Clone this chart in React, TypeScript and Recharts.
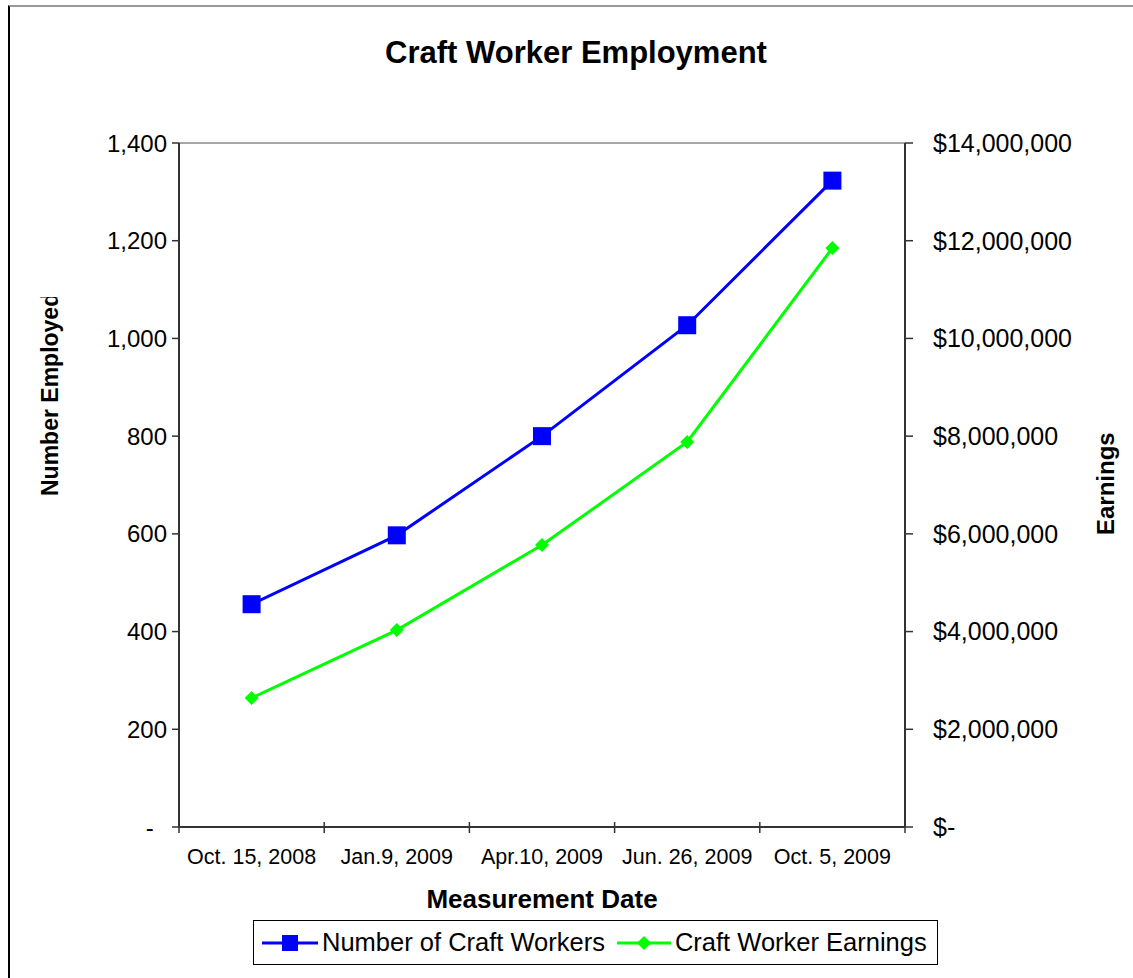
import { LineChart, Line, XAxis, YAxis, ReferenceLine } from "recharts";

// values
const dates = ["Oct. 15, 2008", "Jan.9, 2009", "Apr.10, 2009", "Jun. 26, 2009", "Oct. 5, 2009"];
const workers = [456, 597, 800, 1027, 1323];
const earnings = [2640000, 4030000, 5770000, 7880000, 11850000];
const workerTicks = [0, 200, 400, 600, 800, 1000, 1200, 1400];
const earningTicks = [0, 2000000, 4000000, 6000000, 8000000, 10000000, 12000000, 14000000];

const data = dates.map((d, i) => ({ date: d, workers: workers[i], earnings: earnings[i] }));

const FONT = "'Liberation Sans', Arial, sans-serif";
const W = 1133;
const H = 978;
const PLOT_LEFT = 179;
const PLOT_RIGHT = 905;
const PLOT_TOP = 143;
const PLOT_BOTTOM = 827;
const HALF_BAND = (PLOT_RIGHT - PLOT_LEFT) / dates.length / 2;
const X_TICK_SIZE = 6;
const X_TICK_MARGIN = 16;

const fmtWorkers = (v: number) => (v === 0 ? "-\u00a0\u00a0" : v.toLocaleString("en-US"));
const fmtEarnings = (v: number) => (v === 0 ? "$-" : "$" + v.toLocaleString("en-US"));

const DateTick = (props: any) => {
  const { x, y, payload, index } = props;
  const axisY = y - X_TICK_SIZE - X_TICK_MARGIN;
  return (
    <g>
      <line x1={x - HALF_BAND} x2={x - HALF_BAND} y1={axisY - 5} y2={axisY + 6} stroke="#333" strokeWidth={1.5} />
      {index === dates.length - 1 && (
        <line x1={x + HALF_BAND} x2={x + HALF_BAND} y1={axisY - 5} y2={axisY + 6} stroke="#333" strokeWidth={1.5} />
      )}
      <text x={x} y={y} dy="0.71em" textAnchor="middle" fontSize={21.5} fontFamily={FONT} fill="#000">
        {payload.value}
      </text>
    </g>
  );
};

const SquareDot = (props: any) => {
  const { cx, cy, index } = props;
  return <rect key={"sq" + index} x={cx - 9} y={cy - 9} width={18} height={18} fill="#0000FF" />;
};

const DiamondDot = (props: any) => {
  const { cx, cy, index } = props;
  const r = 7;
  return (
    <polygon
      key={"dm" + index}
      points={`${cx},${cy - r} ${cx + r},${cy} ${cx},${cy + r} ${cx - r},${cy}`}
      fill="#00FF00"
    />
  );
};

const LeftTitle = () => (
  <g clipPath="url(#leftTitleClip)">
    <defs>
      <clipPath id="leftTitleClip">
        <rect x={20} y={297} width={60} height={220} />
      </clipPath>
    </defs>
    <text
      x={58}
      y={496}
      transform="rotate(-90, 58, 496)"
      fontSize={23}
      fontWeight="bold"
      fontFamily={FONT}
      fill="#000"
    >
      Number Employed
    </text>
  </g>
);

const RightTitle = () => (
  <text
    x={1114}
    y={535}
    transform="rotate(-90, 1114, 535)"
    fontSize={24}
    fontWeight="bold"
    fontFamily={FONT}
    fill="#000"
  >
    Earnings
  </text>
);

const BottomTitle = (props: any) => {
  const { viewBox } = props;
  return (
    <text
      x={viewBox.x + viewBox.width / 2}
      y={908}
      textAnchor="middle"
      fontSize={26}
      fontWeight="bold"
      fontFamily={FONT}
      fill="#000"
    >
      Measurement Date
    </text>
  );
};

const LegendBox = () => (
  <div
    style={{
      position: "absolute",
      left: 253,
      top: 920,
      width: 685,
      height: 45,
      border: "1px solid #000",
      background: "#fff",
      fontFamily: FONT,
      fontSize: 25.5,
      display: "flex",
      alignItems: "center",
      paddingLeft: 8,
      boxSizing: "border-box",
      whiteSpace: "nowrap",
    }}
  >
    <svg width={56} height={20} style={{ marginRight: 4, flex: "none" }}>
      <line x1={0} x2={56} y1={10} y2={10} stroke="#0000FF" strokeWidth={3} />
      <rect x={20} y={2} width={16} height={16} fill="#0000FF" />
    </svg>
    <span style={{ marginRight: 12 }}>Number of Craft Workers</span>
    <svg width={54} height={20} style={{ marginRight: 4, flex: "none" }}>
      <line x1={0} x2={54} y1={10} y2={10} stroke="#00FF00" strokeWidth={3} />
      <polygon points="27,3 34,10 27,17 20,10" fill="#00FF00" />
    </svg>
    <span>Craft Worker Earnings</span>
  </div>
);

export default function App() {
  return (
    <div style={{ position: "absolute", left: 0, top: 0, width: W, height: H, background: "#fff", overflow: "hidden" }}>
      <div
        style={{
          position: "absolute",
          left: 8,
          top: 5,
          width: W,
          height: H,
          borderLeft: "2px solid #000",
          borderTop: "2px solid #999",
          boxSizing: "border-box",
        }}
      />
      <div
        style={{
          position: "absolute",
          left: 0,
          top: 35,
          width: 1152,
          textAlign: "center",
          fontFamily: FONT,
          fontSize: 31,
          fontWeight: "bold",
        }}
      >
        Craft Worker Employment
      </div>
      <div style={{ position: "absolute", left: 0, top: 0 }}>
        <LineChart width={W} height={H} data={data} margin={{ top: PLOT_TOP, right: 0, bottom: 0, left: 0 }}>
          <XAxis
            dataKey="date"
            height={H - PLOT_BOTTOM}
            padding={{ left: HALF_BAND, right: HALF_BAND }}
            axisLine={{ stroke: "#333", strokeWidth: 2 }}
            tickLine={{ stroke: "none" }}
            tickSize={X_TICK_SIZE}
            tickMargin={X_TICK_MARGIN}
            tick={<DateTick />}
            interval={0}
            label={{ content: <BottomTitle /> }}
          />
          <YAxis
            yAxisId="left"
            width={PLOT_LEFT}
            domain={[0, 1400]}
            ticks={workerTicks}
            tickFormatter={fmtWorkers}
            axisLine={{ stroke: "#333", strokeWidth: 2 }}
            tickLine={{ stroke: "#333", strokeWidth: 1.5 }}
            tickSize={7}
            tickMargin={5}
            tick={{ fontSize: 24, fontFamily: FONT, fill: "#000" }}
            interval={0}
            label={{ content: <LeftTitle /> }}
          />
          <YAxis
            yAxisId="right"
            orientation="right"
            width={W - PLOT_RIGHT}
            domain={[0, 14000000]}
            ticks={earningTicks}
            tickFormatter={fmtEarnings}
            axisLine={{ stroke: "#333", strokeWidth: 2 }}
            tickLine={{ stroke: "#333", strokeWidth: 1.5 }}
            tickSize={8}
            tickMargin={20}
            tick={{ fontSize: 25, fontFamily: FONT, fill: "#000", textAnchor: "start" }}
            interval={0}
            label={{ content: <RightTitle /> }}
          />
          <ReferenceLine yAxisId="left" y={1400} stroke="#888" strokeWidth={1.5} />
          <Line
            yAxisId="left"
            dataKey="workers"
            stroke="#0000FF"
            strokeWidth={3}
            dot={SquareDot}
            activeDot={false}
            isAnimationActive={false}
          />
          <Line
            yAxisId="right"
            dataKey="earnings"
            stroke="#00FF00"
            strokeWidth={3}
            dot={DiamondDot}
            activeDot={false}
            isAnimationActive={false}
          />
        </LineChart>
      </div>
      <LegendBox />
    </div>
  );
}
